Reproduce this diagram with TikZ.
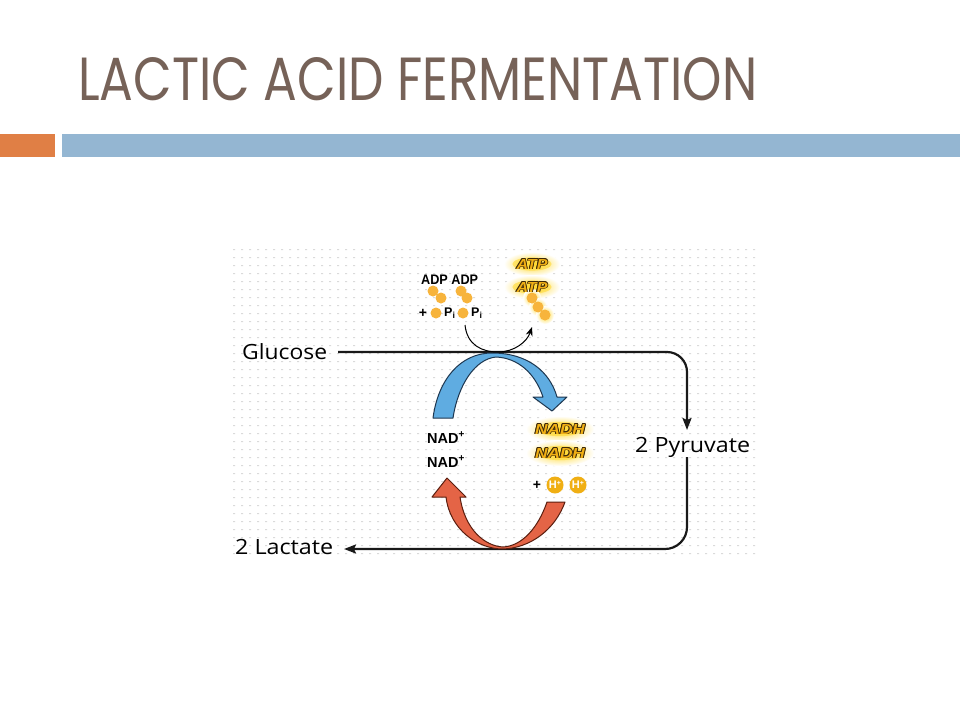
\documentclass[tikz,border=0pt]{standalone}
\usepackage{fontspec}
\setmainfont{Open Sans}
\newfontfamily\ttlf{Poppins}
\newfontfamily\lbf{Liberation Sans}
\usetikzlibrary{arrows.meta}
\definecolor{ttlc}{RGB}{118,98,88}
\definecolor{orbar}{RGB}{224,127,69}
\definecolor{blbar}{RGB}{148,182,210}
\definecolor{dotc}{RGB}{218,218,218}
\definecolor{bluef}{RGB}{95,172,225}
\definecolor{bluel}{RGB}{30,55,80}
\definecolor{redf}{RGB}{228,100,70}
\definecolor{redl}{RGB}{90,30,15}
\definecolor{pdot}{RGB}{247,180,60}
\definecolor{goldf}{RGB}{240,175,20}
\definecolor{glowc}{RGB}{255,215,40}
\definecolor{outc}{RGB}{60,40,10}
\newcommand\outlbl[3]{%
  \foreach \dx/\dy in {-.8/0,.8/0,0/-.8,0/.8,-.6/-.6,.6/.6,-.6/.6,.6/-.6}
    {\node[olab,text=outc,xshift=\dx pt,yshift=\dy pt] at (#1) {#3};}
  \node[olab,text=goldf] (#2) at (#1) {#3};}
\newcommand\glow[3]{%
  \shade[inner color=glowc, outer color=white] (#1) ellipse (#2 and #3);
  \fill[glowc, opacity=0.55] (#1) ellipse (0.7*#2 and 0.55*#3);}
\tikzset{
  lab/.style={inner sep=0pt, font=\fontsize{21}{21}\selectfont, text=black},
  small/.style={inner sep=0pt, font=\lbf\bfseries\fontsize{12.5}{12.5}\selectfont, text=black},
  olab/.style={inner sep=0pt, font=\lbf\bfseries\itshape\fontsize{14}{14}\selectfont},
  flow/.style={line width=2.2pt, draw=black!90, -{Stealth[length=12pt,width=9pt,inset=2pt]}},
  pball/.style={fill=pdot, draw=none},
  bigarrowB/.style={fill=bluef, draw=bluel, line width=1pt, line join=round},
  bigarrowR/.style={fill=redf, draw=redl, line width=1pt, line join=round},
}
\begin{document}
\begin{tikzpicture}[x=1pt,y=-1pt]
\useasboundingbox (0,0) rectangle (960,720);
\fill[white] (0,0) rectangle (960,720);
% title and bars
\node[anchor=base west, inner sep=0pt, text=ttlc] (title) at (78,100)
  {\resizebox{679pt}{43pt}{\ttlf LACTIC ACID FERMENTATION}};
\fill[orbar] (0,134) rectangle (55,157);
\fill[blbar] (62,134) rectangle (960,157);
% dotted background
\fill[dotc] \foreach \i in {0,...,65}{\foreach \j in {0,...,38}{(233+8*\i,249+8*\j) rectangle ++(2.2,1.2)}};
% labels
\node[lab, anchor=base west] (glu) at (242,359) {\scalebox{1.09}[1]{Glucose}};
\node[lab, anchor=base west] (lac) at (235,554) {\scalebox{1.11}[1]{2 Lactate}};
\node[lab, anchor=base west] (pyr) at (635,452) {\scalebox{1.11}[1]{2 Pyruvate}};
% main flow lines
\coordinate (gs) at (338,352);
\coordinate (ptop) at (687,430);
\coordinate (pbot) at (687,457);
\coordinate (le) at (344,549);
\draw[flow, rounded corners=20pt] (gs) -| (ptop);
\draw[flow, rounded corners=22pt] (pbot) |- (le);
% blue arrow
\draw[bigarrowB] (433,418) .. controls (438,380) and (460,353) .. (492,353)
  .. controls (528,353) and (550,372) .. (557,397) -- (567,397) -- (552,411) -- (533,397) -- (543,397)
  .. controls (535,373) and (518,358) .. (496,357)
  .. controls (475,359) and (458,385) .. (453,418) -- cycle;
% red arrow
\draw[bigarrowR] (565,502) -- (547,502)
  .. controls (538,528) and (522,546) .. (503,547)
  .. controls (485,546) and (465,530) .. (460,497) -- (466,497) -- (447,478) -- (432,497) -- (446,497)
  .. controls (450,530) and (478,549) .. (503,549)
  .. controls (530,548) and (555,530) .. cycle;
% ADP / Pi
\node[small, anchor=base west] (adp) at (421,284) {\resizebox{57pt}{9.5pt}{ADP ADP}};
\fill[pball] (433,291) circle (5.5) (441,298) circle (5.5) (461,291) circle (5.5) (467,298) circle (5.5);
\node[small, font=\lbf\bfseries\fontsize{14}{14}\selectfont] (plus1) at (423,313) {+};
\fill[pball] (436,313) circle (5.5) (463,313) circle (5.5);
\node[small, anchor=west] (pi1) at (444,313) {P\textsubscript{i}};
\node[small, anchor=west] (pi2) at (471,313) {P\textsubscript{i}};
% ATP arrow
\coordinate (as) at (465,325);
\coordinate (ae) at (532,327);
\draw[line width=1pt, -{Stealth[length=9pt,width=7pt]}] (as) .. controls (467,345) and (482,352) .. (498,352)
  .. controls (514,352) and (527,342) .. (ae);
% ATP glows
\glow{532,264}{28}{12}
\glow{532,287}{28}{12}
\foreach \p in {{532,298},{538,307},{545,315}}
  {\shade[inner color=glowc, outer color=white] (\p) circle (9);}
\fill[pball] (532,298) circle (5.5) (538,307) circle (5.5) (545,315) circle (5.5);
\outlbl{532,264}{atp1}{\resizebox{31pt}{10pt}{ATP}}
\outlbl{532,287}{atp2}{\resizebox{31pt}{10pt}{ATP}}
% NADH
\glow{560,429}{34}{13}
\glow{560,453}{34}{13}
\outlbl{560,429}{nadh1}{\resizebox{50pt}{10pt}{NADH}}
\outlbl{560,453}{nadh2}{\resizebox{50pt}{10pt}{NADH}}
% NAD+
\node[small, anchor=base west, font=\lbf\bfseries\fontsize{14.5}{14.5}\selectfont] (nad1) at (427,443) {NAD\raisebox{0.35em}{\fontsize{10}{10}\selectfont+}};
\node[small, anchor=base west, font=\lbf\bfseries\fontsize{14.5}{14.5}\selectfont] (nad2) at (427,467) {NAD\raisebox{0.35em}{\fontsize{10}{10}\selectfont+}};
% H+
\node[small, font=\lbf\bfseries\fontsize{14}{14}\selectfont] (plus2) at (537,485) {+};
\fill[goldf] (555,485) circle (8.5) (578,485) circle (8.5);
\node[inner sep=0pt, text=white, font=\lbf\bfseries\fontsize{11}{11}\selectfont] (h1) at (555,485) {H\raisebox{0.3em}{\fontsize{7}{7}\selectfont+}};
\node[inner sep=0pt, text=white, font=\lbf\bfseries\fontsize{11}{11}\selectfont] (h2) at (578,485) {H\raisebox{0.3em}{\fontsize{7}{7}\selectfont+}};
\end{tikzpicture}
\end{document}
